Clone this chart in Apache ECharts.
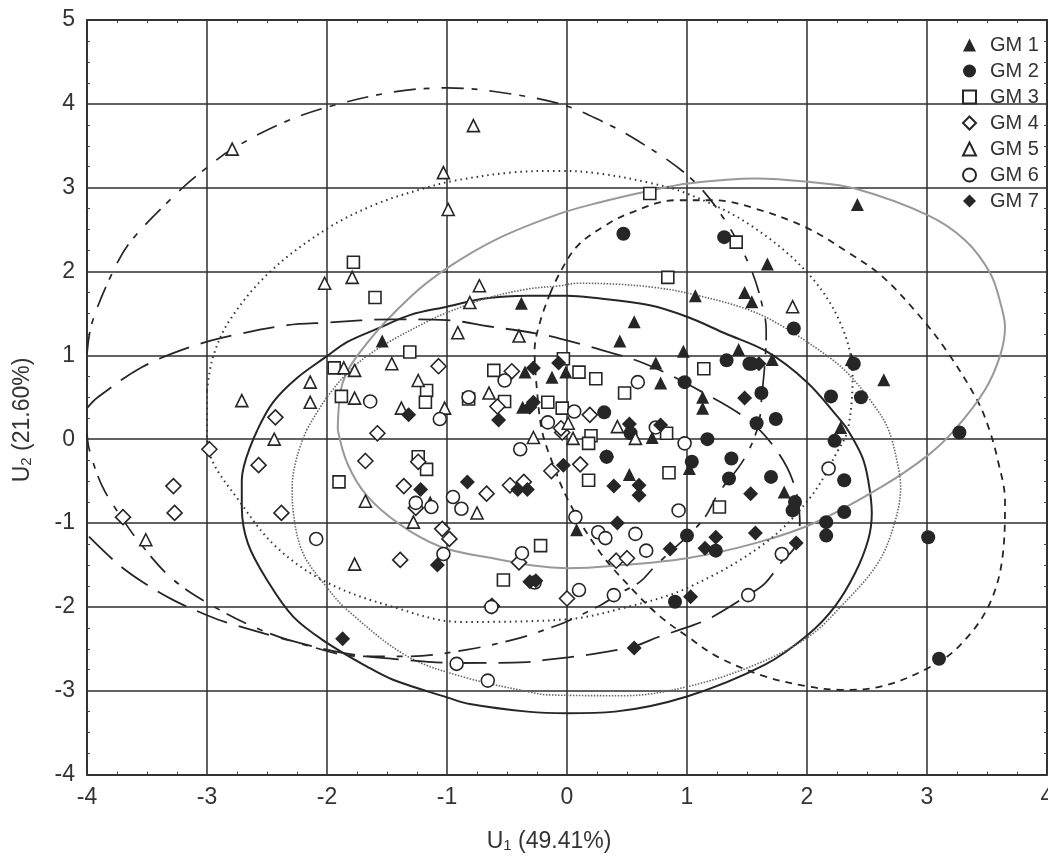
<!DOCTYPE html>
<html><head><meta charset="utf-8">
<style>html,body{margin:0;padding:0;background:#fff}#c{width:1048px;height:857px}</style>
<script src="https://cdn.jsdelivr.net/npm/echarts@6/dist/echarts.min.js"></script>
</head><body><div id="c"></div>
<script>
const groupNames = ['GM 1','GM 2','GM 3','GM 4','GM 5','GM 6','GM 7'];
const gm1 = [[2.42,2.80],[1.67,2.09],[1.48,1.75],[1.54,1.64],[1.07,1.71],[0.56,1.40],[0.44,1.17],[0.97,1.05],[1.43,1.07],[1.71,0.95],[2.37,0.95],[2.64,0.71],[0.74,0.91],[0.78,0.67],[1.13,0.50],[1.13,0.37],[2.28,0.14],[-0.01,0.80],[-0.125,0.74],[-0.38,1.62],[-1.54,1.17],[-0.35,0.80],[-0.37,0.38],[-1.14,-0.75],[0.71,0.02],[0.52,-0.42],[1.02,-0.35],[1.81,-0.63],[0.08,-1.08]];
const gm2 = [[0.47,2.45],[1.31,2.41],[1.89,1.32],[1.33,0.94],[1.52,0.90],[1.54,0.90],[2.39,0.90],[0.98,0.68],[1.62,0.55],[2.20,0.51],[2.45,0.50],[0.31,0.32],[1.58,0.19],[1.74,0.24],[3.27,0.08],[1.17,0.0],[1.04,-0.27],[1.37,-0.23],[1.35,-0.47],[1.70,-0.45],[1.90,-0.75],[1.88,-0.85],[2.31,-0.49],[2.31,-0.87],[2.16,-0.99],[2.16,-1.15],[2.23,-0.02],[3.01,-1.17],[3.10,-2.62],[1.0,-1.15],[1.24,-1.33],[0.90,-1.94],[0.33,-0.21],[0.53,0.07]];
const gm3 = [[0.69,2.93],[1.41,2.35],[0.84,1.93],[1.14,0.84],[-0.03,0.96],[0.10,0.80],[0.24,0.72],[0.48,0.55],[-0.16,0.44],[-0.04,0.37],[-1.78,2.11],[-1.60,1.69],[-1.31,1.04],[-1.94,0.85],[-1.88,0.51],[-1.17,0.58],[-1.18,0.44],[-0.82,0.48],[-0.61,0.82],[-0.52,0.45],[0.20,0.04],[0.18,-0.05],[0.83,0.07],[0.85,-0.40],[0.18,-0.49],[1.27,-0.81],[-1.90,-0.51],[-1.24,-0.21],[-1.17,-0.36],[-0.22,-1.27],[-0.53,-1.68]];
const gm4 = [[-1.07,0.87],[-2.43,0.26],[-0.46,0.81],[-0.58,0.39],[0.19,0.29],[0.11,-0.30],[-0.04,0.08],[-1.58,0.07],[-1.68,-0.26],[-1.24,-0.27],[-1.36,-0.56],[-1.26,-0.82],[-1.04,-1.07],[-0.98,-1.19],[-0.67,-0.65],[-0.475,-0.55],[-0.36,-0.51],[-0.13,-0.38],[-0.05,0.13],[-2.98,-0.12],[-2.57,-0.31],[-3.28,-0.56],[-3.27,-0.88],[-3.70,-0.93],[-2.38,-0.88],[-1.39,-1.44],[-0.40,-1.47],[-0.625,-1.99],[0,-1.90],[0.41,-1.45],[0.50,-1.42]];
const gm5 = [[-2.79,3.46],[-0.78,3.74],[-1.03,3.18],[-0.99,2.74],[-2.02,1.86],[-1.79,1.93],[-0.73,1.83],[-0.81,1.63],[-0.91,1.27],[-0.40,1.23],[-1.86,0.85],[-1.77,0.82],[-1.46,0.90],[-2.14,0.68],[-2.71,0.46],[-2.14,0.44],[-1.77,0.49],[-1.24,0.70],[-1.38,0.37],[-1.02,0.37],[-0.65,0.55],[1.88,1.58],[-2.44,0.0],[-1.68,-0.74],[-1.28,-0.99],[-0.75,-0.88],[-1.77,-1.49],[-3.51,-1.20],[-0.28,0.02],[0.01,0.19],[0.05,0.01],[0.42,0.15],[0.57,0.01]];
const gm6 = [[-1.64,0.45],[-1.06,0.24],[-0.82,0.50],[-0.52,0.70],[-0.16,0.20],[-0.39,-0.12],[0.06,0.33],[0.59,0.68],[0.74,0.14],[0.98,-0.05],[0.93,-0.85],[0.07,-0.93],[0.26,-1.11],[0.32,-1.18],[0.57,-1.13],[0.66,-1.33],[0.39,-1.86],[0.10,-1.80],[1.51,-1.86],[1.79,-1.37],[2.18,-0.35],[-1.26,-0.76],[-1.13,-0.81],[-0.95,-0.69],[-0.88,-0.83],[-1.03,-1.37],[-0.375,-1.36],[-2.09,-1.19],[-0.92,-2.68],[-0.66,-2.88],[-0.27,-1.71],[-0.63,-2.0]];
const gm7 = [[-1.32,0.29],[-0.57,0.23],[-0.28,0.85],[-0.28,0.44],[-0.31,0.38],[-0.07,0.91],[-0.03,-0.31],[0.52,0.18],[0.78,0.17],[0.33,-0.21],[0.39,-0.56],[0.60,-0.55],[0.60,-0.67],[0.42,-1.0],[1.48,0.49],[1.60,0.90],[1.53,-0.65],[1.57,-1.12],[1.24,-1.17],[0.86,-1.31],[1.15,-1.30],[1.91,-1.24],[1.03,-1.88],[0.56,-2.49],[-1.87,-2.38],[-1.08,-1.50],[-1.22,-0.60],[-0.83,-0.51],[-0.41,-0.60],[-0.33,-0.60],[-0.31,-1.70],[-0.26,-1.69]];

const ell1 = [[-2.58,0.11],[-2.45,0.44],[-2.25,0.73],[-2.0,0.99],[-1.83,1.16],[-1.56,1.33],[-1.31,1.48],[-1.0,1.58],[-0.67,1.68],[-0.33,1.71],[0,1.71],[0.2,1.69],[0.68,1.6],[1.0,1.46],[1.32,1.26],[1.67,1.04],[2.0,0.68],[2.26,0.26],[2.34,0.11],[2.46,-0.21],[2.51,-0.49],[2.54,-0.88],[2.51,-1.2],[2.40,-1.6],[2.23,-2.0],[2.01,-2.33],[1.65,-2.69],[1.0,-3.07],[0.4,-3.25],[0,-3.27],[-0.33,-3.25],[-0.81,-3.16],[-1.0,-3.08],[-1.45,-2.87],[-1.67,-2.71],[-2.0,-2.43],[-2.28,-2.12],[-2.5,-1.68],[-2.66,-1.24],[-2.71,-0.81],[-2.71,-0.49],[-2.58,0.11]];
const ell2 = [[-0.14,1.74],[-0.05,2.01],[0.09,2.31],[0.32,2.55],[0.53,2.70],[0.9,2.85],[1.23,2.85],[1.57,2.75],[2.0,2.52],[2.34,2.23],[2.62,1.95],[2.92,1.50],[3.17,1.04],[3.42,0.46],[3.52,0.11],[3.59,-0.25],[3.65,-0.73],[3.63,-1.40],[3.51,-2.0],[3.26,-2.48],[3.01,-2.73],[2.62,-2.95],[2.28,-2.99],[2.01,-2.95],[1.65,-2.83],[1.26,-2.6],[1.01,-2.36],[0.78,-2.12],[0.57,-1.83],[0.28,-1.36],[0.01,-0.73],[-0.14,-0.21],[-0.21,0.11],[-0.25,0.58],[-0.27,1.06],[-0.22,1.42],[-0.14,1.74]];
const ell3 = [[-1.91,0.11],[-1.87,0.67],[-1.67,1.14],[-1.31,1.69],[-1.0,2.04],[-0.58,2.39],[-0.06,2.69],[0.26,2.82],[0.68,2.96],[1.01,3.05],[1.57,3.11],[2.01,3.07],[2.40,2.99],[3.01,2.67],[3.32,2.37],[3.53,1.97],[3.62,1.58],[3.65,1.34],[3.61,1.0],[3.48,0.58],[3.23,0.11],[3.01,-0.19],[2.62,-0.57],[2.06,-1.0],[1.57,-1.24],[1.0,-1.42],[0.4,-1.51],[0,-1.54],[-0.7,-1.40],[-1.06,-1.28],[-1.39,-1.02],[-1.67,-0.67],[-1.83,-0.29],[-1.91,0.11]];
const ell4 = [[-3.0,0.58],[-2.95,0.98],[-2.81,1.42],[-2.48,1.99],[-2.0,2.51],[-1.58,2.81],[-1.17,3.0],[-0.95,3.08],[-0.47,3.18],[-0.06,3.20],[0.26,3.17],[0.68,3.06],[1.0,2.93],[1.51,2.57],[2.0,1.99],[2.28,1.38],[2.38,0.74],[2.34,0.11],[2.26,-0.13],[2.03,-0.69],[1.65,-1.24],[1.01,-1.77],[0.48,-2.01],[-0.01,-2.15],[-0.89,-2.18],[-1.45,-2.0],[-2.0,-1.71],[-2.42,-1.29],[-2.72,-0.76],[-2.98,-0.17],[-3.0,0.11],[-3.0,0.58]];
const ell5 = [[-4.0,1.02],[-3.96,1.38],[-3.78,2.01],[-3.63,2.37],[-3.21,2.99],[-3.0,3.24],[-2.79,3.46],[-2.39,3.76],[-2.0,3.96],[-1.45,4.14],[-1.0,4.19],[-0.62,4.15],[-0.06,4.0],[0.28,3.80],[0.59,3.56],[1.01,3.14],[1.28,2.69],[1.53,2.04],[1.65,1.45],[1.66,1.26],[1.62,0.46],[1.59,0.14],[1.47,-0.25],[1.26,-0.65],[1.15,-0.93],[1.03,-1.12],[0.88,-1.32],[0.73,-1.52],[0.61,-1.70],[0.45,-1.83],[0.28,-1.98],[-0.01,-2.18],[-0.12,-2.24],[-0.39,-2.37],[-0.83,-2.51],[-1.31,-2.59],[-1.73,-2.59],[-2.12,-2.48],[-2.56,-2.27],[-3.0,-1.95],[-3.31,-1.64],[-3.58,-1.2],[-3.7,-0.96],[-3.87,-0.57],[-3.98,-0.13],[-4.0,0.07]];
const ell6 = [[-2.17,0.11],[-2.0,0.5],[-1.78,0.86],[-1.53,1.12],[-1.14,1.42],[-1.0,1.51],[-0.67,1.68],[-0.33,1.79],[-0.06,1.83],[0.09,1.86],[0.4,1.85],[0.73,1.81],[1.01,1.74],[1.48,1.56],[1.78,1.36],[2.2,0.96],[2.37,0.74],[2.57,0.38],[2.68,0.11],[2.76,-0.33],[2.78,-0.57],[2.73,-1.0],[2.59,-1.48],[2.28,-2.0],[2.01,-2.36],[1.57,-2.69],[1.01,-2.95],[0.48,-3.06],[-0.16,-3.05],[-0.33,-3.01],[-0.83,-2.85],[-1.33,-2.59],[-1.83,-2.04],[-2.0,-1.77],[-2.2,-1.36],[-2.28,-0.88],[-2.29,-0.57],[-2.25,-0.21],[-2.17,0.11]];
const ell7 = [[-4,0.37],[-3.91,0.5],[-3.54,0.86],[-3.14,1.10],[-2.78,1.24],[-2.33,1.36],[-2.0,1.39],[-1.45,1.43],[-1.0,1.42],[-0.67,1.35],[-0.25,1.26],[-0.06,1.2],[0.2,1.10],[0.65,0.90],[1.13,0.56],[1.51,0.23],[1.73,-0.10],[1.88,-0.49],[1.94,-0.96],[1.91,-1.26],[1.78,-1.48],[1.65,-1.72],[1.51,-1.86],[1.2,-2.13],[1.01,-2.24],[0.76,-2.36],[0.56,-2.47],[0.18,-2.57],[-0.16,-2.63],[-0.33,-2.66],[-0.89,-2.67],[-1.45,-2.62],[-1.87,-2.55],[-2.39,-2.37],[-2.83,-2.19],[-3.0,-2.10],[-3.28,-1.92],[-3.53,-1.71],[-3.75,-1.48],[-4.0,-1.14]];

const font = '"Liberation Sans", Arial, sans-serif';
const ink = '#262626';
const marks = [
  {data:gm1, symbol:'triangle', size:13, fill:ink},
  {data:gm2, symbol:'circle', size:14, fill:ink},
  {data:gm3, symbol:'rect', size:12, fill:'#fff'},
  {data:gm4, symbol:'diamond', size:15, fill:'#fff'},
  {data:gm5, symbol:'triangle', size:12, fill:'#fff'},
  {data:gm6, symbol:'circle', size:13, fill:'#fff'},
  {data:gm7, symbol:'diamond', size:15, fill:ink}
];
const outlines = [
  {data:ell1, color:'#262626', width:2, dash:'solid'},
  {data:ell2, color:'#262626', width:1.8, dash:[7,6]},
  {data:ell3, color:'#999999', width:2, dash:'solid'},
  {data:ell4, color:'#333333', width:2, dash:[1.5,4]},
  {data:ell5, color:'#262626', width:1.7, dash:[22,8,6,12]},
  {data:ell6, color:'#666666', width:1.6, dash:[1.5,1.5]},
  {data:ell7, color:'#262626', width:1.8, dash:[32,12]}
];
const gridColor = '#2e2e2e';
function valueAxis(min, max, position, labels) {
  return {
    type:'value', min, max, interval:1, position,
    axisLine:{show:true, onZero:false, lineStyle:{color:'#333', width:2}},
    axisTick:{show:false},
    minorTick:{show:true, splitNumber:4, length:-3, lineStyle:{color:'#444', width:1}},
    minorSplitLine:{show:false},
    splitLine:{show:labels, lineStyle:{color:gridColor, width:1.5}},
    axisLabel:{show:labels, color:'#333', fontFamily:font, fontSize:23, margin:12, hideOverlap:false,
      showMinLabel:true, showMaxLabel:true}
  };
}
const series = [];
outlines.forEach((o,i)=>series.push({
  name:'ellipse '+(i+1), type:'line', data:o.data, smooth:0.35, showSymbol:false, symbol:'none',
  silent:true, clip:true, z:3, lineStyle:{color:o.color, width:o.width, type:o.dash}, legendHoverLink:false
}));
marks.forEach((m,i)=>series.push({
  name:groupNames[i], type:'scatter', data:m.data, symbol:m.symbol, symbolSize:m.size, z:5+i, clip:false,
  itemStyle:{color:m.fill, borderColor:ink, borderWidth:m.fill==='#fff'?1.6:0, opacity:1}
}));
const chart = echarts.init(document.getElementById('c'), null, {renderer:'canvas'});
chart.setOption({
  animation:false, backgroundColor:'#fff',
  grid:{left:87, right:1, top:20, bottom:82.5, containLabel:false, outerBoundsMode:'none'},
  xAxis:[
    valueAxis(-4,4,'bottom',true),
    valueAxis(-4,4,'top',false)
  ],
  yAxis:[
    valueAxis(-4,5,'left',true),
    valueAxis(-4,5,'right',false)
  ],
  legend:{
    show:true, orient:'vertical', left:962, top:35, itemWidth:13, itemHeight:13, itemGap:6, padding:0,
    selectedMode:false,
    data:marks.map((m,i)=>({name:groupNames[i], icon:m.symbol})),
    textStyle:{color:'#333', fontFamily:font, fontSize:20, padding:[0,0,0,9]}
  },
  graphic:[{
    type:'text', rotation:Math.PI/2, x:23, y:420, z:10,
    style:{text:'U{sub|2} (21.60%)', fill:'#333', font:'23px '+font, align:'center', verticalAlign:'middle',
      rich:{sub:{fontSize:15, fontFamily:font, fill:'#333', padding:[8,0,0,0]}}}
  },{
    type:'text', x:549, y:842, z:10,
    style:{text:'U{sub|1} (49.41%)', fill:'#333', font:'23px '+font, align:'center', verticalAlign:'middle',
      rich:{sub:{fontSize:15, fontFamily:font, fill:'#333', padding:[8,0,0,0]}}}
  }],
  series
});
</script></body></html>
